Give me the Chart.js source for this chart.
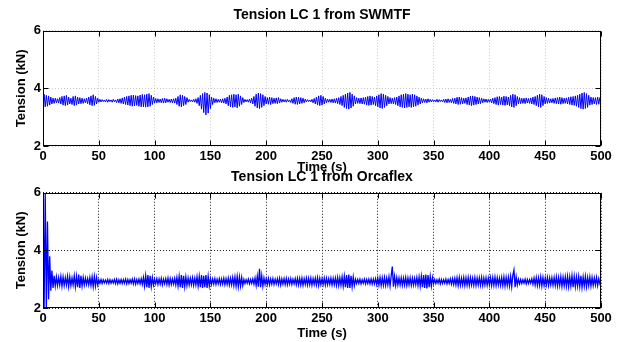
<!DOCTYPE html>
<html>
<head>
<meta charset="utf-8">
<script src="https://cdn.jsdelivr.net/npm/chart.js@4/dist/chart.umd.min.js"></script>
<style>
  body { margin: 0; background: #fff; }
  #wrap { position: relative; width: 623px; height: 342px; }
  canvas { position: absolute; left: 0; }
</style>
</head>
<body>
<div id="wrap">
  <canvas id="swmtf" width="623" height="175" style="top:0px"></canvas>
  <canvas id="orcaflex" width="623" height="179" style="top:162px"></canvas>
</div>
<script>
// tick labels
const timeTicks = [0, 50, 100, 150, 200, 250, 300, 350, 400, 450, 500];
const tensionTicks = [2, 4, 6];

// tension (kN), one sample per second, 0..500 s
const tensionSwmtf = [
  3.57,3.80,3.36,3.76,3.38,3.74,3.42,3.70,3.46,3.66,
  3.48,3.66,3.50,3.64,3.49,3.68,3.46,3.72,3.42,3.74,
  3.40,3.76,3.42,3.70,3.46,3.66,3.44,3.72,3.40,3.74,
  3.42,3.70,3.46,3.68,3.47,3.66,3.48,3.64,3.50,3.66,
  3.47,3.70,3.43,3.74,3.40,3.78,3.41,3.72,3.46,3.66,
  3.52,3.62,3.53,3.61,3.54,3.60,3.53,3.62,3.52,3.61,
  3.54,3.60,3.52,3.62,3.53,3.60,3.51,3.63,3.50,3.64,
  3.48,3.67,3.46,3.70,3.44,3.72,3.42,3.74,3.40,3.76,
  3.38,3.77,3.39,3.75,3.41,3.74,3.38,3.77,3.36,3.79,
  3.36,3.78,3.35,3.80,3.36,3.82,3.38,3.76,3.44,3.70,
  3.49,3.65,3.50,3.64,3.51,3.63,3.50,3.65,3.49,3.66,
  3.50,3.64,3.52,3.62,3.51,3.63,3.50,3.64,3.49,3.66,
  3.44,3.72,3.38,3.78,3.36,3.76,3.40,3.72,3.44,3.68,
  3.52,3.62,3.54,3.60,3.53,3.62,3.52,3.64,3.48,3.68,
  3.40,3.76,3.28,3.82,3.16,3.86,3.08,3.84,3.14,3.78,
  3.30,3.70,3.44,3.66,3.50,3.64,3.51,3.62,3.52,3.63,
  3.50,3.64,3.49,3.66,3.46,3.70,3.40,3.76,3.36,3.78,
  3.34,3.80,3.36,3.78,3.32,3.80,3.38,3.74,3.44,3.68,
  3.51,3.62,3.53,3.61,3.52,3.63,3.50,3.66,3.46,3.72,
  3.38,3.80,3.32,3.84,3.30,3.82,3.34,3.78,3.40,3.72,
  3.46,3.68,3.45,3.70,3.44,3.68,3.47,3.66,3.48,3.67,
  3.47,3.68,3.49,3.64,3.52,3.62,3.53,3.61,3.52,3.62,
  3.53,3.60,3.51,3.64,3.48,3.68,3.45,3.70,3.44,3.69,
  3.46,3.68,3.48,3.66,3.50,3.63,3.53,3.61,3.54,3.60,
  3.53,3.62,3.50,3.65,3.46,3.70,3.42,3.74,3.40,3.76,
  3.42,3.72,3.46,3.66,3.50,3.63,3.52,3.62,3.51,3.63,
  3.50,3.64,3.49,3.66,3.47,3.68,3.44,3.72,3.40,3.76,
  3.34,3.80,3.30,3.84,3.28,3.86,3.32,3.80,3.38,3.74,
  3.46,3.68,3.48,3.66,3.47,3.67,3.46,3.68,3.45,3.70,
  3.42,3.72,3.41,3.74,3.42,3.72,3.44,3.70,3.40,3.74,
  3.36,3.78,3.32,3.82,3.30,3.80,3.34,3.76,3.40,3.72,
  3.46,3.68,3.47,3.66,3.46,3.68,3.44,3.70,3.40,3.74,
  3.36,3.78,3.34,3.80,3.32,3.82,3.34,3.80,3.36,3.78,
  3.34,3.80,3.36,3.78,3.38,3.74,3.42,3.70,3.46,3.66,
  3.50,3.64,3.51,3.63,3.50,3.64,3.52,3.62,3.53,3.61,
  3.54,3.60,3.53,3.62,3.52,3.61,3.54,3.60,3.53,3.62,
  3.51,3.63,3.50,3.64,3.51,3.62,3.50,3.65,3.48,3.66,
  3.46,3.69,3.44,3.70,3.45,3.68,3.46,3.66,3.48,3.67,
  3.44,3.70,3.42,3.73,3.40,3.74,3.42,3.72,3.44,3.70,
  3.46,3.68,3.47,3.66,3.50,3.64,3.52,3.63,3.51,3.62,
  3.52,3.63,3.50,3.66,3.47,3.68,3.44,3.71,3.42,3.72,
  3.44,3.70,3.42,3.73,3.41,3.72,3.43,3.70,3.40,3.76,
  3.36,3.80,3.34,3.78,3.40,3.72,3.46,3.68,3.47,3.66,
  3.48,3.66,3.47,3.67,3.49,3.65,3.48,3.67,3.46,3.70,
  3.44,3.72,3.40,3.76,3.36,3.80,3.34,3.78,3.40,3.72,
  3.46,3.68,3.48,3.66,3.49,3.64,3.50,3.65,3.48,3.67,
  3.47,3.68,3.46,3.70,3.45,3.68,3.47,3.66,3.48,3.67,
  3.46,3.69,3.44,3.71,3.42,3.72,3.41,3.74,3.38,3.76,
  3.34,3.80,3.30,3.84,3.28,3.86,3.30,3.82,3.34,3.76,
  3.42,3.70,3.44,3.68,3.46,3.68,3.44,3.70,3.45,3.68,
  3.52
];

const tensionOrcaflex = [
  6.00,2.00,6.00,2.00,5.00,2.30,3.80,2.60,3.30,2.70,
  3.12,2.76,3.08,2.78,3.06,2.80,3.10,2.76,3.08,2.78,
  3.05,2.80,3.10,2.74,3.08,2.78,3.04,2.80,3.12,2.74,
  3.10,2.72,3.16,2.70,3.12,2.76,3.06,2.80,3.04,2.82,
  3.02,2.80,3.06,2.78,3.08,2.74,3.10,2.76,3.06,2.80,
  2.98,2.86,2.99,2.85,2.98,2.87,2.97,2.86,2.99,2.85,
  2.98,2.86,2.97,2.87,2.99,2.85,3.00,2.84,2.98,2.86,
  2.99,2.85,2.98,2.86,3.00,2.84,2.99,2.85,2.98,2.86,
  3.00,2.84,3.01,2.83,2.99,2.85,3.00,2.84,3.02,2.82,
  3.06,2.76,3.12,2.72,3.14,2.70,3.12,2.74,3.06,2.80,
  3.00,2.84,3.02,2.82,3.01,2.83,3.03,2.81,3.00,2.84,
  3.02,2.82,3.04,2.80,3.02,2.82,3.01,2.83,3.03,2.80,
  3.06,2.76,3.10,2.72,3.14,2.70,3.12,2.74,3.08,2.78,
  3.04,2.80,3.03,2.81,3.05,2.79,3.04,2.80,3.08,2.76,
  3.10,2.72,3.14,2.70,3.12,2.72,3.14,2.70,3.10,2.76,
  3.02,2.82,3.01,2.83,3.02,2.82,3.00,2.84,3.02,2.82,
  3.01,2.83,3.03,2.81,3.02,2.82,3.04,2.80,3.03,2.81,
  3.06,2.78,3.08,2.76,3.10,2.74,3.08,2.76,3.06,2.78,
  2.99,2.85,2.98,2.86,3.00,2.84,2.99,2.85,3.01,2.83,
  3.04,2.78,3.10,2.74,3.36,2.72,3.12,2.76,3.04,2.82,
  3.02,2.82,3.03,2.81,3.01,2.83,3.02,2.82,3.00,2.84,
  3.02,2.82,3.03,2.80,3.01,2.83,3.02,2.82,3.03,2.81,
  3.01,2.83,3.02,2.82,3.00,2.84,3.02,2.81,3.03,2.80,
  3.03,2.80,3.04,2.79,3.02,2.82,3.04,2.80,3.03,2.81,
  3.04,2.79,3.02,2.82,3.03,2.80,3.05,2.78,3.03,2.81,
  3.02,2.82,3.04,2.80,3.03,2.81,3.02,2.82,3.04,2.80,
  3.03,2.81,3.04,2.79,3.06,2.78,3.05,2.79,3.08,2.76,
  3.10,2.72,3.14,2.70,3.16,2.70,3.12,2.74,3.08,2.78,
  3.00,2.85,2.99,2.85,3.00,2.84,2.98,2.86,3.00,2.84,
  2.99,2.85,3.00,2.84,3.01,2.83,3.00,2.84,3.02,2.82,
  3.04,2.80,3.06,2.78,3.05,2.79,3.06,2.78,3.04,2.80,
  3.08,2.76,3.12,3.44,2.74,3.10,2.78,3.06,2.80,3.04,
  2.80,3.05,2.79,3.04,2.80,3.06,2.78,3.04,2.80,3.05,
  2.79,3.04,2.80,3.03,2.81,3.06,2.78,3.08,2.76,3.10,
  2.72,3.14,2.70,3.16,2.68,3.14,2.72,3.10,2.76,3.06,
  2.84,2.99,2.85,2.98,2.86,3.00,2.84,2.99,2.85,2.98,
  2.86,3.00,2.84,2.99,2.85,3.01,2.83,3.02,2.82,3.03,
  2.80,3.05,2.78,3.06,2.79,3.04,2.80,3.06,2.78,3.05,
  2.79,3.06,2.78,3.05,2.80,3.04,2.79,3.06,2.78,3.04,
  2.80,3.05,2.79,3.06,2.78,3.04,2.80,3.05,2.79,3.04,
  2.80,3.05,2.78,3.06,2.79,3.07,2.78,3.05,2.80,3.04,
  2.79,3.06,2.78,3.08,2.76,3.06,2.78,3.07,2.77,3.10,
  2.74,3.14,3.32,2.72,3.08,2.80,3.00,2.84,2.99,2.85,
  2.98,2.86,3.00,2.84,2.99,2.85,2.98,2.86,3.01,2.83,
  3.04,2.80,3.06,2.78,3.05,2.79,3.08,2.76,3.06,2.78,
  3.04,2.80,3.06,2.78,3.04,2.80,3.05,2.79,3.06,2.78,
  3.08,2.76,3.06,2.78,3.09,2.75,3.07,2.77,3.08,2.76,
  3.10,2.74,3.08,2.76,3.12,2.72,3.10,2.74,3.08,2.76,
  3.10,2.74,3.12,2.72,3.08,2.76,3.10,2.74,3.06,2.78,
  3.08,2.76,3.06,2.78,3.04,2.80,3.06,2.78,3.02,2.84,
  2.94
];

const FONT = '"Liberation Sans", Arial, Helvetica, sans-serif';

// matlab style box with inward tick marks
const boxPlugin = {
  id: 'box',
  afterDatasetsDraw(chart) {
    const { ctx, chartArea: a, scales: { x, y } } = chart;
    const L = Math.round(a.left) + 0.5, R = Math.round(a.right) - 0.5;
    const T = Math.round(a.top) + 0.5, B = Math.round(a.bottom) - 0.5;
    ctx.save();
    ctx.strokeStyle = '#000';
    ctx.lineWidth = 1;
    ctx.beginPath();
    x.ticks.forEach(t => {
      const px = Math.round(x.getPixelForValue(t.value)) + 0.5;
      ctx.moveTo(px, B); ctx.lineTo(px, B - 5);
      ctx.moveTo(px, T); ctx.lineTo(px, T + 5);
    });
    y.ticks.forEach(t => {
      const py = Math.round(y.getPixelForValue(t.value)) + 0.5;
      ctx.moveTo(L, py); ctx.lineTo(L + 5, py);
      ctx.moveTo(R, py); ctx.lineTo(R - 5, py);
    });
    ctx.stroke();
    ctx.strokeRect(L, T, R - L, B - T);
    ctx.restore();
  }
};

function makeChart(id, title, values, gridColor, xAxisHeight, lineWidth) {
  const times = values.map((_, i) => i);
  return new Chart(document.getElementById(id), {
    type: 'line',
    data: {
      labels: times,
      datasets: [{
        data: values,
        borderColor: '#0000ff',
        borderWidth: lineWidth,
        pointRadius: 0,
        tension: 0,
        fill: false
      }]
    },
    options: {
      responsive: false,
      animation: false,
      devicePixelRatio: 1,
      layout: { padding: { left: 0, right: 22, top: 0, bottom: 0 } },
      plugins: {
        legend: { display: false },
        tooltip: { enabled: false },
        title: {
          display: true,
          text: title,
          fullSize: false,
          color: '#000',
          font: { family: FONT, size: 14, weight: 'bold' },
          padding: { top: 7, bottom: 7 }
        }
      },
      scales: {
        x: {
          type: 'linear',
          min: 0,
          max: 500,
          afterBuildTicks: s => { s.ticks = timeTicks.map(v => ({ value: v })); },
          afterFit: s => { s.height = xAxisHeight; },
          ticks: {
            color: '#000',
            padding: 3,
            maxRotation: 0,
            autoSkip: false,
            font: { family: FONT, size: 13, weight: 'bold' }
          },
          grid: { color: gridColor, drawTicks: false },
          border: { display: false, dash: [1, 2] },
          title: {
            display: true,
            text: 'Time (s)',
            color: '#000',
            padding: { top: 0, bottom: 0 },
            font: { family: FONT, size: 13, weight: 'bold' }
          }
        },
        y: {
          min: 2,
          max: 6,
          afterBuildTicks: s => { s.ticks = tensionTicks.map(v => ({ value: v })); },
          afterFit: s => { s.width = 43; },
          ticks: {
            color: '#000',
            padding: 2,
            font: { family: FONT, size: 13, weight: 'bold' }
          },
          grid: { color: gridColor, drawTicks: false },
          border: { display: false, dash: [1, 2] },
          title: {
            display: true,
            text: 'Tension (kN)',
            color: '#000',
            padding: { top: 14, bottom: 0 },
            font: { family: FONT, size: 13, weight: 'bold' }
          }
        }
      }
    },
    plugins: [boxPlugin]
  });
}

makeChart('swmtf', 'Tension LC 1 from SWMTF', tensionSwmtf, '#c8c8c8', 29, 1);
makeChart('orcaflex', 'Tension LC 1 from Orcaflex', tensionOrcaflex, '#222', 33, 1.3);
</script>
</body>
</html>
